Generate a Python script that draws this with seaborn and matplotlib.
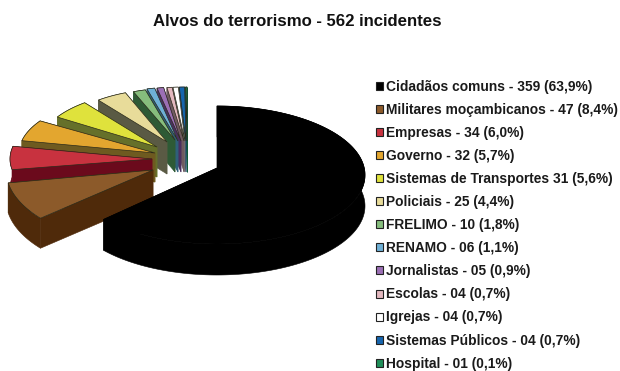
import numpy as np
import matplotlib
matplotlib.use("Agg")
import matplotlib.pyplot as plt
from matplotlib.patches import Patch
import seaborn as sns

# Incident counts by target group, in clockwise order from twelve o'clock
categories = ["Cidadãos comuns", "Militares moçambicanos", "Empresas", "Governo",
              "Sistemas de Transportes", "Policiais", "FRELIMO", "RENAMO",
              "Jornalistas", "Escolas", "Igrejas", "Sistemas Públicos", "Hospital"]
counts = [359, 47, 34, 32, 31, 25, 10, 6, 5, 4, 4, 4, 1]
count_labels = ["359", "47", "34", "32", "31", "25", "10", "06", "05", "04", "04", "04", "01"]
percent_labels = ["63,9", "8,4", "6,0", "5,7", "5,6", "4,4", "1,8", "1,1", "0,9", "0,7", "0,7", "0,7", "0,1"]
title_text = "Alvos do terrorismo - 562 incidentes"

top_colors = ["#000000", "#8c5a2a", "#c8323f", "#e3a62f", "#dfe23c", "#e8dc9a", "#86bd7d",
              "#6fb0d6", "#9b6fb5", "#e3b8bf", "#ffffff", "#1665ae", "#1f8f5a"]
side_colors = ["#000000", "#4f2a0a", "#6b0a1c", "#6e5a20", "#66702a", "#5a5a44", "#2e5a35",
               "#2f5f7a", "#4a2f5f", "#6f5a60", "#777777", "#0c3a66", "#0f5a3a"]
outline_colors = ["#000000"] + ["#2a2a1a"] * 12

# Perspective layout of each exploded slice, in pixels
apex_x = [217, 153, 152, 155, 157, 167, 175, 178, 181, 184, 185, 186, 187]
apex_y = [168, 170, 159, 153, 147, 142, 140, 141, 141, 141, 141, 141, 141]
radius_x = [148, 147, 142, 136, 118, 112, 112, 117, 120, 118, 120, 120, 120]
radius_y = [69, 75, 62, 60, 56, 53, 52, 54, 54, 54, 54, 54, 54]
center_drop = [7, 0, 0, 0, 0, 0, 0, 0, 0, 0, 0, 0, 0]
depth = [31, 30, 29, 29, 30, 32, 32, 31, 31, 31, 31, 31, 31]

sns.set_theme(style="white")
plt.rcParams["font.family"] = ["Liberation Sans", "DejaVu Sans"]

W, H = 620, 371
fig = plt.figure(figsize=(W / 100, H / 100), dpi=100)
ax = fig.add_axes([0, 0, 1, 1])
ax.set_xlim(0, W)
ax.set_ylim(H, 0)
ax.axis("off")

shares = np.asarray(counts, dtype=float) / sum(counts)
edges = np.concatenate([[0.0], np.cumsum(shares)]) * 2 * np.pi


def slice_arc(i):
    """Outer arc of slice i on its top face."""
    theta = np.linspace(edges[i], edges[i + 1], max(4, int(shares[i] * 400)))
    x = apex_x[i] + radius_x[i] * np.sin(theta)
    y = apex_y[i] + center_drop[i] - radius_y[i] * np.cos(theta)
    return x, y


def draw_wall(x, y, drop, color, z):
    """Extrude a top-face edge downward into a single side polygon."""
    ax.fill(np.r_[x, x[::-1]], np.r_[y, y[::-1] + drop], facecolor=color,
            edgecolor=color, lw=0.4, zorder=z)


# Paint from the far slices to the near ones so closer walls cover farther ones
for i in range(len(counts) - 1, -1, -1):
    tip_x, tip_y = apex_x[i], apex_y[i]
    x, y = slice_arc(i)
    base = -2 * i + 30
    draw_wall(x, y, depth[i], side_colors[i], base)
    draw_wall(np.r_[tip_x, x[0]], np.r_[tip_y, y[0]], depth[i], side_colors[i], base)
    draw_wall(np.r_[tip_x, x[-1]], np.r_[tip_y, y[-1]], depth[i], side_colors[i], base)
    ax.fill(np.r_[tip_x, x], np.r_[tip_y, y], facecolor=top_colors[i], edgecolor=outline_colors[i],
            lw=0.5, zorder=base + 1)

ax.text(297, 22, title_text, ha="center", va="center", fontsize=12.05, fontweight="bold", color="#111111")

labels = []
for i, name in enumerate(categories):
    if name == "Sistemas de Transportes":
        labels.append(f"{name} {count_labels[i]} ({percent_labels[i]}%)")
    else:
        labels.append(f"{name} - {count_labels[i]} ({percent_labels[i]}%)")

handles = [Patch(facecolor=c, edgecolor="#222222", linewidth=0.8) for c in sns.color_palette(top_colors)]
fig.legend(handles, labels, loc="upper left", bbox_to_anchor=(373 / W, 1 - 77 / H), frameon=False,
           prop={"size": 9.9, "weight": "bold"}, labelcolor="#1a1a1a", handlelength=0.52, handleheight=0.52,
           handletextpad=0.22, labelspacing=0.66, borderpad=0.2, borderaxespad=0)

fig.savefig("out.png", dpi=100, facecolor="white")
